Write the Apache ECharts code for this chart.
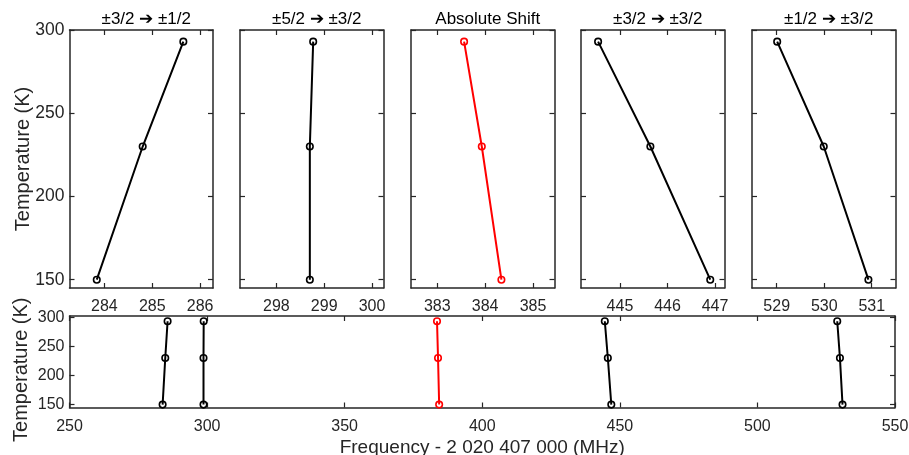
<!DOCTYPE html>
<html><head><meta charset="utf-8">
<script src="https://cdn.jsdelivr.net/npm/echarts@6/dist/echarts.min.js"></script>
<style>html,body{margin:0;padding:0;background:#fff}#c{width:909px;height:455px}</style>
</head><body><div id="c"></div>
<script>
const temperatures = [150, 230, 293];
const panelTitles = ['±3/2 ➔ ±1/2', '±5/2 ➔ ±3/2', 'Absolute Shift', '±3/2 ➔ ±3/2', '±1/2 ➔ ±3/2'];
const freq1 = [283.84, 284.80, 285.65];
const freq2 = [298.70, 298.70, 298.77];
const freq3 = [384.34, 383.93, 383.56];
const freq4 = [446.90, 445.64, 444.54];
const freq5 = [530.93, 529.99, 529.01];
const seriesData = [freq1, freq2, freq3, freq4, freq5];
const seriesColors = ['#000000', '#000000', '#ff0000', '#000000', '#000000'];
const xTicks = [[284, 285, 286], [298, 299, 300], [383, 384, 385], [445, 446, 447], [529, 530, 531]];
const xRanges = [[283.27, 286.27], [297.24, 300.24], [382.45, 385.45], [444.18, 447.2], [528.48, 531.5]];
const tempTicks = [150, 200, 250, 300];
const bottomXTicks = [250, 300, 350, 400, 450, 500, 550];

const FONT = '"Liberation Sans", Arial, sans-serif';
const AX = '#262626';
const gridLefts = [69.5, 240, 411, 581, 752];
const gridW = 143.5;

const grids = [], xAxes = [], yAxes = [], series = [], titles = [];
function addAxes(gi, xr, xt, yr, yt, opts) {
  const tickLen = opts.tickLen;
  xAxes.push({type: 'value', gridIndex: gi, min: xr[0], max: xr[1], position: 'bottom',
    axisLine: {show: true, onZero: false, lineStyle: {color: AX, width: 1.5}},
    axisTick: {show: true, inside: true, length: tickLen, customValues: xt, lineStyle: {color: AX, width: 1.2}},
    axisLabel: {show: true, color: AX, fontFamily: FONT, fontSize: 16, customValues: xt, margin: opts.xMargin},
    splitLine: {show: false},
    name: opts.xName || '', nameLocation: 'middle', nameGap: 30.5, nameMoveOverlap: false,
    nameTextStyle: {color: AX, fontFamily: FONT, fontSize: 19}});
  xAxes.push({type: 'value', gridIndex: gi, min: xr[0], max: xr[1], position: 'top',
    axisLine: {show: true, onZero: false, lineStyle: {color: AX, width: 1.5}},
    axisTick: {show: true, inside: true, length: tickLen, customValues: xt, lineStyle: {color: AX, width: 1.2}},
    axisLabel: {show: false}, splitLine: {show: false}});
  yAxes.push({type: 'value', gridIndex: gi, min: yr[0], max: yr[1], position: 'left',
    axisLine: {show: true, onZero: false, lineStyle: {color: AX, width: 1.5}},
    axisTick: {show: true, inside: true, length: tickLen, customValues: yt, lineStyle: {color: AX, width: 1.2}},
    axisLabel: {show: opts.yLabels, color: AX, fontFamily: FONT, fontSize: opts.yFont, customValues: yt, margin: 5},
    splitLine: {show: false},
    name: opts.yName || '', nameLocation: 'middle', nameGap: opts.yNameGap, nameRotate: 90, nameMoveOverlap: false,
    nameTextStyle: {color: AX, fontFamily: FONT, fontSize: 20, padding: opts.yNamePad || 0}});
  yAxes.push({type: 'value', gridIndex: gi, min: yr[0], max: yr[1], position: 'right',
    axisLine: {show: true, onZero: false, lineStyle: {color: AX, width: 1.5}},
    axisTick: {show: true, inside: true, length: tickLen, customValues: yt, lineStyle: {color: AX, width: 1.2}},
    axisLabel: {show: false}, splitLine: {show: false}});
}
function addSeries(gi, k) {
  const c = seriesColors[k];
  series.push({type: 'line', xAxisIndex: gi * 2, yAxisIndex: gi * 2,
    data: seriesData[k].map((v, j) => [v, temperatures[j]]),
    symbol: 'circle', symbolSize: 6.5,
    lineStyle: {color: c, width: 2},
    itemStyle: {color: 'rgba(0,0,0,0)', borderColor: c, borderWidth: 1.6},
    emphasis: {disabled: true}, silent: true, z: 3});
}

for (let i = 0; i < 5; i++) {
  grids.push({left: gridLefts[i], top: 30, width: gridW, height: 258, containLabel: false, outerBoundsMode: 'none'});
  addAxes(i, xRanges[i], xTicks[i], [145, 300], tempTicks,
    {tickLen: 5, xMargin: 11, yLabels: i === 0, yFont: 17.5,
     yName: i === 0 ? 'Temperature (K)' : '', yNameGap: 36.5});
  addSeries(i, i);
  titles.push({text: panelTitles[i], left: gridLefts[i] + gridW / 2, top: 6, textAlign: 'center',
    textStyle: {color: '#000', fontFamily: FONT, fontSize: 17, fontWeight: 'normal'}});
}
grids.push({left: 69.5, top: 316, width: 825.5, height: 91.5, containLabel: false, outerBoundsMode: 'none'});
addAxes(5, [250, 550], bottomXTicks, [145, 302], tempTicks,
  {tickLen: 5, xMargin: 11.5, yLabels: true, yFont: 16, yName: 'Temperature (K)', yNameGap: 38,
   yNamePad: [0, 16, 0, 0], xName: 'Frequency - 2 020 407 000 (MHz)'});
for (let k = 0; k < 5; k++) addSeries(5, k);

const chart = echarts.init(document.getElementById('c'), null, {renderer: 'canvas'});
chart.setOption({animation: false, backgroundColor: '#fff', title: titles,
  grid: grids, xAxis: xAxes, yAxis: yAxes, series: series});
</script></body></html>
